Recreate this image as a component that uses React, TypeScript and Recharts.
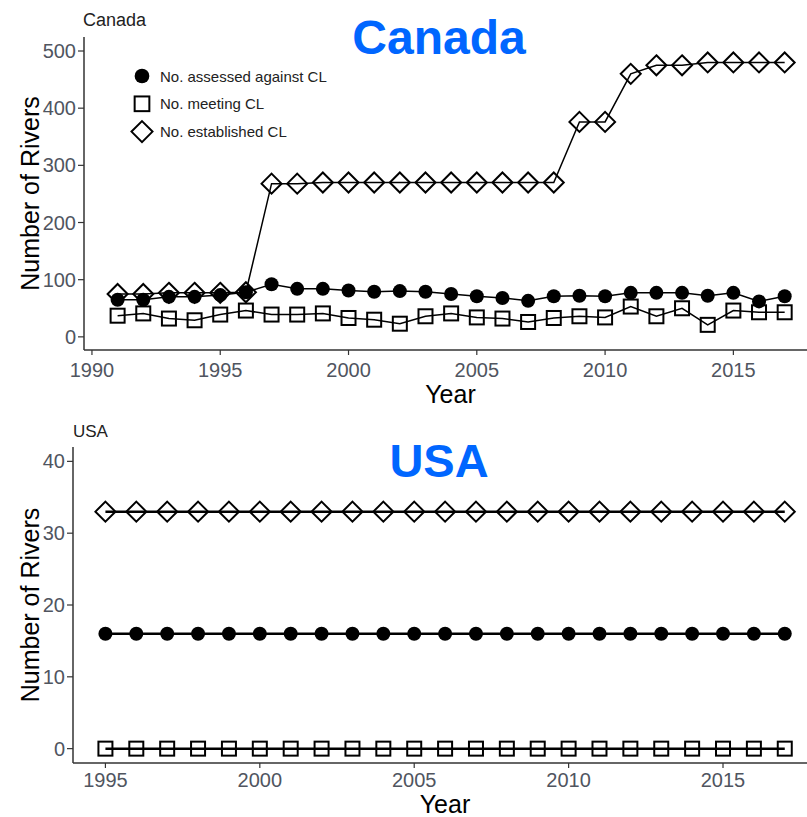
import React from 'react';
import { LineChart, Line, XAxis, YAxis, Legend } from 'recharts';

// Canada panel
const caYears = [1991, 1992, 1993, 1994, 1995, 1996, 1997, 1998, 1999, 2000, 2001, 2002, 2003, 2004, 2005, 2006, 2007, 2008, 2009, 2010, 2011, 2012, 2013, 2014, 2015, 2016, 2017];
const caAssessed = [65, 65, 70, 70, 73, 78, 92, 84, 84, 81, 79, 80, 79, 75, 71, 68, 63, 71, 72, 71, 77, 77, 77, 72, 77, 62, 71];
const caMeeting = [37, 41, 32, 29, 39, 46, 39, 39, 41, 33, 30, 23, 36, 41, 34, 32, 26, 33, 36, 34, 53, 36, 50, 21, 46, 43, 43];
const caEstablished = [75, 75, 77, 77, 77, 78, 268, 268, 270, 270, 270, 270, 270, 270, 270, 270, 270, 270, 376, 376, 460, 475, 475, 480, 480, 480, 480];
const caXTicks = [1990, 1995, 2000, 2005, 2010, 2015];
const caYTicks = [0, 100, 200, 300, 400, 500];

// USA panel
const usYears = [1995, 1996, 1997, 1998, 1999, 2000, 2001, 2002, 2003, 2004, 2005, 2006, 2007, 2008, 2009, 2010, 2011, 2012, 2013, 2014, 2015, 2016, 2017];
const usAssessed = [16, 16, 16, 16, 16, 16, 16, 16, 16, 16, 16, 16, 16, 16, 16, 16, 16, 16, 16, 16, 16, 16, 16];
const usMeeting = [0, 0, 0, 0, 0, 0, 0, 0, 0, 0, 0, 0, 0, 0, 0, 0, 0, 0, 0, 0, 0, 0, 0];
const usEstablished = [33, 33, 33, 33, 33, 33, 33, 33, 33, 33, 33, 33, 33, 33, 33, 33, 33, 33, 33, 33, 33, 33, 33];
const usXTicks = [1995, 2000, 2005, 2010, 2015];
const usYTicks = [0, 10, 20, 30, 40];

const legendItems = [
  { name: 'No. assessed against CL', shape: 'circle' },
  { name: 'No. meeting CL', shape: 'square' },
  { name: 'No. established CL', shape: 'diamond' },
];

const FONT = '"Liberation Sans", Arial, sans-serif';
const TICK_COLOR = '#50555f';
const AXIS_COLOR = '#333';

const caData = caYears.map((year, i) => ({
  year,
  assessed: caAssessed[i],
  meeting: caMeeting[i],
  established: caEstablished[i],
}));

const usData = usYears.map((year, i) => ({
  year,
  assessed: usAssessed[i],
  meeting: usMeeting[i],
  established: usEstablished[i],
}));

const Marker = ({ shape, cx, cy, scale = 1 }: { shape: string; cx: number; cy: number; scale?: number }) => {
  if (shape === 'circle') return <circle cx={cx} cy={cy} r={7 * scale} fill="#000" />;
  if (shape === 'square') {
    const h = 7 * scale;
    return <rect x={cx - h} y={cy - h} width={2 * h} height={2 * h} fill="none" stroke="#000" strokeWidth={2} />;
  }
  const d = 10 * scale;
  return (
    <polygon
      points={`${cx},${cy - d} ${cx + d},${cy} ${cx},${cy + d} ${cx - d},${cy}`}
      fill="none"
      stroke="#000"
      strokeWidth={2}
    />
  );
};

const makeDot = (shape: string) => (props: any) => {
  const { cx, cy, index } = props;
  if (cx == null || cy == null) return <g key={`${shape}-${index}`} />;
  return <Marker key={`${shape}-${index}`} shape={shape} cx={cx} cy={cy} />;
};

const LegendBox = () => (
  <svg width={260} height={90} style={{ fontFamily: FONT }}>
    {legendItems.map((item, i) => {
      const cy = 16 + i * 27.8;
      return (
        <g key={item.name}>
          <Marker shape={item.shape} cx={17} cy={cy} scale={1.05} />
          <text x={35} y={cy + 5.5} fontSize={15} fill="#222">
            {item.name}
          </text>
        </g>
      );
    })}
  </svg>
);

interface PanelProps {
  data: Array<{ year: number; assessed: number; meeting: number; established: number }>;
  top: number;
  height: number;
  plotTop: number;
  plotBottom: number;
  yAxisWidth: number;
  xAxisHeight: number;
  xDomain: [number, number];
  yDomain: [number, number];
  xTicks: number[];
  yTicks: number[];
  xTickMargin: number;
  yLabelOffset: number;
  xLabelOffset: number;
  lineWidth: number;
  legend?: boolean;
}

const Panel = (p: PanelProps) => (
  <div style={{ position: 'absolute', left: 0, top: p.top }}>
    <LineChart
      width={807}
      height={p.height}
      data={p.data}
      margin={{ top: p.plotTop, right: 0, left: 0, bottom: p.height - p.plotBottom - p.xAxisHeight }}
      style={{ fontFamily: FONT }}
    >
      <XAxis
        dataKey="year"
        type="number"
        domain={p.xDomain}
        ticks={p.xTicks}
        allowDataOverflow
        height={p.xAxisHeight}
        tickSize={5}
        tickMargin={p.xTickMargin}
        tick={{ fill: TICK_COLOR, fontSize: 20 }}
        tickLine={{ stroke: AXIS_COLOR, strokeWidth: 1.2 }}
        axisLine={{ stroke: AXIS_COLOR, strokeWidth: 1.5 }}
        label={{ value: 'Year', position: 'insideBottom', offset: p.xLabelOffset, dx: 5, fill: '#000', fontSize: 25 }}
      />
      <YAxis
        type="number"
        domain={p.yDomain}
        ticks={p.yTicks}
        allowDataOverflow
        width={p.yAxisWidth}
        tickSize={6}
        tickMargin={2}
        tick={{ fill: TICK_COLOR, fontSize: 20 }}
        tickLine={{ stroke: AXIS_COLOR, strokeWidth: 1.2 }}
        axisLine={{ stroke: AXIS_COLOR, strokeWidth: 1.5 }}
        label={{
          value: 'Number of Rivers',
          angle: -90,
          position: 'insideLeft',
          offset: p.yLabelOffset,
          fill: '#000',
          fontSize: 25,
          style: { textAnchor: 'middle' },
        }}
      />
      {p.legend && (
        <Legend
          layout="vertical"
          align="center"
          verticalAlign="middle"
          wrapperStyle={{ left: 125, top: 60, width: 260, height: 90 }}
          content={() => <LegendBox />}
        />
      )}
      <Line
        dataKey="established"
        stroke="#000"
        strokeWidth={p.lineWidth}
        dot={makeDot('diamond')}
        activeDot={false}
        isAnimationActive={false}
      />
      <Line
        dataKey="assessed"
        stroke="#000"
        strokeWidth={p.lineWidth}
        dot={makeDot('circle')}
        activeDot={false}
        isAnimationActive={false}
      />
      <Line
        dataKey="meeting"
        stroke="#000"
        strokeWidth={p.lineWidth}
        dot={makeDot('square')}
        activeDot={false}
        isAnimationActive={false}
      />
    </LineChart>
  </div>
);

export default function App() {
  return (
    <div
      style={{
        position: 'absolute',
        left: 0,
        top: 0,
        width: 807,
        height: 817,
        overflow: 'hidden',
        background: '#fff',
        fontFamily: FONT,
      }}
    >
      <Panel
        data={caData}
        top={0}
        height={420}
        plotTop={37}
        plotBottom={350}
        yAxisWidth={84}
        xAxisHeight={60}
        xDomain={[1989.69, 2017.87]}
        yDomain={[-23, 524.5]}
        xTicks={caXTicks}
        yTicks={caYTicks}
        xTickMargin={8}
        yLabelOffset={30}
        xLabelOffset={7}
        lineWidth={1.5}
        legend
      />
      <Panel
        data={usData}
        top={420}
        height={397}
        plotTop={27}
        plotBottom={343}
        yAxisWidth={73}
        xAxisHeight={54}
        xDomain={[1993.95, 2017.72]}
        yDomain={[-2, 42]}
        xTicks={usXTicks}
        yTicks={usYTicks}
        xTickMargin={5}
        yLabelOffset={30}
        xLabelOffset={4}
        lineWidth={2.5}
      />
      <svg
        width={807}
        height={817}
        style={{ position: 'absolute', left: 0, top: 0, pointerEvents: 'none', fontFamily: FONT }}
      >
        <text x={83} y={26} fontSize={18} fill="#222">Canada</text>
        <text x={439} y={54} fontSize={48} fontWeight="bold" fill="#0066ff" textAnchor="middle">Canada</text>
        <text x={73} y={437} fontSize={17} fill="#222">USA</text>
        <text x={439} y={477} fontSize={47} fontWeight="bold" fill="#0066ff" textAnchor="middle">USA</text>
      </svg>
    </div>
  );
}
